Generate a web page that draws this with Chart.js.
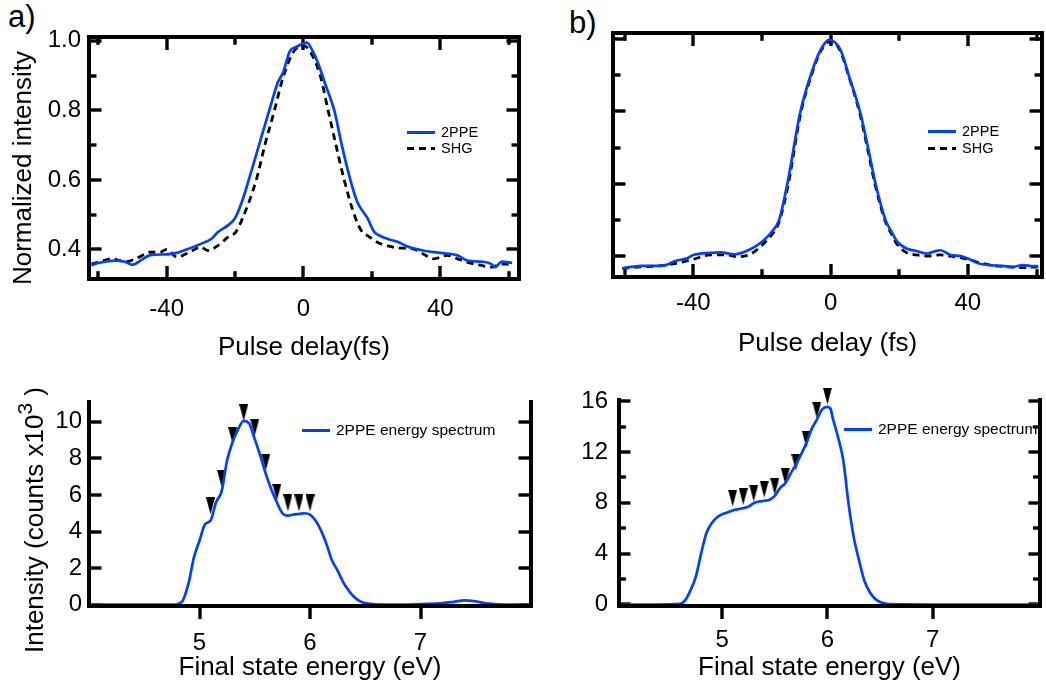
<!DOCTYPE html>
<html lang="en">
<head>
<meta charset="UTF-8">
<title>2PPE / SHG autocorrelation and 2PPE energy spectra</title>
<style>
    html, body { margin: 0; padding: 0; background: #fff; }
    body {
        width: 1046px; height: 687px; position: relative; overflow: hidden;
        font-family: "Liberation Sans", Arial, sans-serif; color: #000;
    }
    .panel { position: absolute; }
    .panel canvas { display: block; }
    .frame { position: absolute; box-sizing: border-box; border: 4px solid #000; pointer-events: none; }
    .frame.open { border-top: none; }
    .tag { position: absolute; font-size: 31px; line-height: 1; }
    .ytitle {
        position: absolute; font-size: 26px; line-height: 1; white-space: nowrap;
        transform: translate(-50%, -50%) rotate(-90deg);
    }
    .ytitle .sup { font-size: 21px; position: relative; top: -11px; }
    .leg { position: absolute; display: flex; align-items: center; height: 16px; white-space: nowrap; }
    .leg .sw { width: 28px; height: 3px; margin-right: 6px; }
    .leg .solid { background: #0040ff; }
    .leg .dash { background: repeating-linear-gradient(to right, #000 0 7px, transparent 7px 12px); }
</style>
</head>
<body>

<div class="tag" style="left:8px; top:1px;">a)</div>
<div class="tag" style="left:569px; top:7px;">b)</div>

<div class="panel" style="left:0; top:0;"><canvas id="chartA" width="530" height="365"></canvas></div>
<div class="panel" style="left:530px; top:0;"><canvas id="chartB" width="516" height="365"></canvas></div>
<div class="panel" style="left:0; top:365px;"><canvas id="chartC" width="545" height="322"></canvas></div>
<div class="panel" style="left:545px; top:365px;"><canvas id="chartD" width="501" height="322"></canvas></div>

<div class="ytitle" style="left:22px; top:168px;">Normalized intensity</div>
<div class="ytitle" style="left:34px; top:520px;">Intensity (counts x10<span class="sup">3</span> )</div>

<div class="leg" style="left:407px; top:124px; font-size:14.5px;"><div class="sw solid"></div>2PPE</div>
<div class="leg" style="left:407px; top:140px; font-size:14.5px;"><div class="sw dash"></div>SHG</div>
<div class="leg" style="left:928px; top:123px; font-size:14.5px;"><div class="sw solid"></div>2PPE</div>
<div class="leg" style="left:928px; top:140px; font-size:14.5px;"><div class="sw dash"></div>SHG</div>
<div class="leg" style="left:302px; top:422px; font-size:15.5px;"><div class="sw solid"></div>2PPE energy spectrum</div>
<div class="leg" style="left:844px; top:421px; font-size:15.5px;"><div class="sw solid"></div>2PPE energy spectrum</div>

<script src="https://cdn.jsdelivr.net/npm/chart.js@4"></script>
<script>
    const BLUE = '#0040ff';

    // a) pulse delay (fs) -> normalized intensity
    const delayA2ppe = [-62, -60, -55, -52, -50, -47, -45, -40, -37, -35, -30, -27, -25, -22, -20, -18, -16, -13, -10, -7.5, -6, -4, -2, 0, 1, 2.7, 4.5, 6.2, 9, 11.2, 13.7, 15.7, 18.7, 20.7, 22.2, 24.7, 28, 30, 35, 40, 45, 48, 52, 55, 56, 58, 61];
    const a2ppe = [0.355, 0.361, 0.368, 0.364, 0.356, 0.372, 0.383, 0.386, 0.39, 0.397, 0.416, 0.43, 0.45, 0.47, 0.49, 0.537, 0.6, 0.7, 0.8, 0.88, 0.908, 0.97, 0.983, 0.992, 0.995, 0.97, 0.93, 0.88, 0.8, 0.7, 0.6, 0.537, 0.49, 0.45, 0.44, 0.43, 0.42, 0.41, 0.397, 0.39, 0.383, 0.368, 0.365, 0.358, 0.349, 0.365, 0.361];
    const delayAShg = [-62, -60, -56, -52, -48, -45, -42, -40, -37, -33, -30, -28, -25, -22, -19.8, -17.8, -13.8, -11.3, -8.5, -5.8, -2.8, 0, 1.9, 4.9, 7.2, 9.5, 11.9, 15.2, 17.2, 18.7, 21.7, 24.7, 28, 32, 35, 38, 42, 45, 48, 52, 55, 58, 61];
    const aShg = [0.358, 0.363, 0.373, 0.365, 0.378, 0.392, 0.392, 0.4, 0.378, 0.394, 0.407, 0.397, 0.411, 0.436, 0.45, 0.49, 0.6, 0.7, 0.8, 0.9, 0.97, 0.986, 0.97, 0.9, 0.8, 0.7, 0.6, 0.49, 0.45, 0.44, 0.42, 0.41, 0.404, 0.402, 0.387, 0.373, 0.383, 0.373, 0.363, 0.354, 0.349, 0.358, 0.358];

    // b) pulse delay (fs) -> normalized intensity
    const delayB2ppe = [-60.7, -58, -55, -50, -48, -45, -42, -40, -35, -32, -28, -25, -22, -19.9, -17.5, -15, -12.6, -8.9, -5.8, -2.9, -0.5, 2.9, 5.3, 8.7, 10.9, 13.1, 16, 18, 19.4, 22.3, 25, 28, 30, 32, 35, 38, 40, 43, 46, 50, 53, 56, 59, 60.5];
    const b2ppe = [0.366, 0.37, 0.373, 0.373, 0.375, 0.387, 0.393, 0.403, 0.409, 0.41, 0.405, 0.412, 0.426, 0.44, 0.463, 0.5, 0.6, 0.795, 0.9, 0.97, 0.998, 0.97, 0.9, 0.795, 0.7, 0.6, 0.5, 0.463, 0.44, 0.42, 0.414, 0.407, 0.412, 0.416, 0.403, 0.4, 0.393, 0.38, 0.375, 0.373, 0.37, 0.375, 0.372, 0.372];
    const delayBShg = [-60.7, -55, -50, -45, -40, -35, -30, -27, -23, -20, -17.5, -15, -12.3, -8.7, -5.6, -2.7, 0, 2.7, 5.2, 8.5, 10.7, 12.9, 15.8, 17.8, 19.2, 22, 25, 28, 32, 36, 40, 44, 48, 52, 56, 60.5];
    const bShg = [0.366, 0.37, 0.373, 0.38, 0.391, 0.403, 0.403, 0.398, 0.407, 0.43, 0.455, 0.495, 0.6, 0.795, 0.9, 0.97, 0.994, 0.97, 0.9, 0.795, 0.7, 0.6, 0.5, 0.46, 0.435, 0.41, 0.403, 0.4, 0.403, 0.398, 0.391, 0.38, 0.373, 0.37, 0.368, 0.37];

    // c) final state energy (eV) -> counts x10^3
    const energyC = [4.05, 4.5, 4.78, 4.82, 4.85, 4.9, 4.95, 5.0, 5.05, 5.1, 5.15, 5.2, 5.25, 5.3, 5.35, 5.4, 5.45, 5.5, 5.55, 5.6, 5.65, 5.7, 5.75, 5.8, 5.85, 5.9, 5.95, 6.0, 6.05, 6.1, 6.15, 6.2, 6.25, 6.3, 6.35, 6.4, 6.45, 6.5, 6.6, 6.8, 7.0, 7.2, 7.3, 7.4, 7.5, 7.6, 7.7, 7.95];
    const countsC = [0, 0, 0, 0.08, 0.24, 1.15, 2.6, 3.5, 4.4, 4.6, 5.6, 6.2, 7.9, 8.9, 9.6, 10.05, 9.9, 9.05, 8.15, 7.15, 6.3, 5.6, 5.0, 4.87, 4.93, 4.96, 5.0, 4.93, 4.6, 4.05, 3.3, 2.4, 1.87, 1.24, 0.78, 0.42, 0.2, 0.09, 0.02, 0, 0.04, 0.09, 0.16, 0.24, 0.18, 0.07, 0.02, 0];
    const markEnergyC = [5.1, 5.2, 5.3, 5.4, 5.5, 5.6, 5.7, 5.8, 5.9, 6.0];
    const markCountsC = [5.4, 6.9, 9.25, 10.5, 9.7, 7.8, 6.15, 5.56, 5.56, 5.56];

    // d) final state energy (eV) -> counts x10^3
    const energyD = [4.02, 4.4, 4.6, 4.65, 4.7, 4.75, 4.8, 4.85, 4.9, 4.95, 5.0, 5.05, 5.1, 5.15, 5.2, 5.25, 5.3, 5.35, 5.4, 5.45, 5.5, 5.55, 5.6, 5.65, 5.7, 5.75, 5.8, 5.85, 5.9, 5.95, 6.0, 6.03, 6.05, 6.1, 6.15, 6.2, 6.25, 6.3, 6.35, 6.4, 6.45, 6.5, 6.55, 6.6, 7.0, 8.0];
    const countsD = [0, 0, 0.05, 0.34, 1.13, 2.2, 4.0, 5.6, 6.4, 6.85, 7.1, 7.24, 7.4, 7.5, 7.58, 7.7, 7.97, 8.1, 8.16, 8.24, 8.55, 9.16, 9.55, 10.3, 11.0, 11.8, 12.7, 13.8, 14.55, 15.35, 15.55, 15.4, 14.7, 13.2, 11.4, 8.0, 5.3, 3.5, 1.9, 1.0, 0.47, 0.2, 0.08, 0.03, 0, 0];
    const markEnergyD = [5.1, 5.2, 5.3, 5.4, 5.5, 5.6, 5.7, 5.8, 5.9, 6.0];
    const markCountsD = [8.37, 8.5, 8.76, 9.08, 9.29, 10.1, 11.2, 13.0, 15.3, 16.4];

    // ticks
    const delayTicks = [-40, 0, 40];
    const delayMinor = [-60, -20, 20, 60];
    const normTicks = [0.4, 0.6, 0.8, 1.0];
    const normMinor = [0.5, 0.7, 0.9];
    const energyTicks = [5, 6, 7];
    const countTicksC = [0, 2, 4, 6, 8, 10];
    const countTicksD = [0, 4, 8, 12, 16];
    const countMinorD = [2, 6, 10, 14];

    const pts = (xs, ys) => xs.map((x, i) => ({ x: x, y: ys[i] }));

    // black downward triangle marker
    const tri = document.createElement('canvas');
    tri.width = 9; tri.height = 17;
    (function () {
        const c = tri.getContext('2d');
        c.fillStyle = '#000';
        c.beginPath(); c.moveTo(0, 0); c.lineTo(9, 0); c.lineTo(4.5, 17); c.closePath(); c.fill();
    })();

    Chart.defaults.font.family = '"Liberation Sans", Arial, sans-serif';
    Chart.defaults.color = '#000';

    // axis that carries the tick labels and title (no lines)
    function labelAxis(pos, cfg) {
        const horiz = pos === 'bottom';
        return {
            type: 'linear', position: pos, weight: 1,
            min: cfg.min, max: cfg.max,
            afterFit: s => { if (horiz) s.height = cfg.size; else s.width = cfg.size; },
            afterBuildTicks: s => { s.ticks = cfg.ticks.map(v => ({ value: v })); },
            grid: { display: false, drawTicks: false, tickLength: 0 },
            border: { display: false },
            ticks: {
                display: cfg.labels !== false,
                padding: cfg.pad, font: { size: 24 }, color: '#000',
                maxRotation: 0, autoSkip: false,
                callback: cfg.fmt || (v => String(v))
            },
            title: cfg.title ? { display: true, text: cfg.title, font: { size: 26 }, color: '#000', padding: { top: 0, bottom: cfg.titlePad } } : { display: false }
        };
    }

    // zero-size axis that draws the border and the tick marks
    // (negative tickLength = ticks pointing into the plot)
    function tickAxis(pos, min, max, ticks, len, border) {
        const horiz = pos === 'bottom' || pos === 'top';
        return {
            type: 'linear', position: pos, weight: 0, min: min, max: max,
            afterFit: s => { if (horiz) s.height = 0; else s.width = 0; },
            afterBuildTicks: s => { s.ticks = ticks.map(v => ({ value: v })); },
            border: { display: border, color: '#000', width: 4 },
            grid: { display: true, drawOnChartArea: false, drawTicks: true, tickLength: len, tickWidth: 3.4, tickColor: '#000', color: '#000', lineWidth: 4 },
            ticks: { display: false }
        };
    }

    function buildScales(x, y, f) {
        const s = {
            x: labelAxis('bottom', x),
            y: labelAxis('left', y),
            xb: tickAxis('bottom', x.min, x.max, x.ticks, f.xOut ? f.xLen : -f.xLen, true),
            yl: tickAxis('left', y.min, y.max, y.ticks, -f.yLen, true),
            yr: tickAxis('right', y.min, y.max, y.ticks, -f.yLen, true)
        };
        if (f.xMinor) s.xbm = tickAxis('bottom', x.min, x.max, f.xMinor, -f.xLen * 0.6, false);
        if (f.yMinor) {
            s.ylm = tickAxis('left', y.min, y.max, f.yMinor, -f.yLen * 0.6, false);
            s.yrm = tickAxis('right', y.min, y.max, f.yMinor, -f.yLen * 0.6, false);
        }
        if (f.top) {
            s.xt = tickAxis('top', x.min, x.max, x.ticks, -f.xLen, true);
            if (f.xMinor) s.xtm = tickAxis('top', x.min, x.max, f.xMinor, -f.xLen * 0.6, false);
        }
        return s;
    }

    function lineSet(label, xs, ys, color, dash) {
        return {
            label: label, data: pts(xs, ys), xAxisID: 'x', yAxisID: 'y',
            borderColor: color, backgroundColor: color,
            borderWidth: dash ? 2.8 : 2.7, borderDash: dash || [], pointRadius: 0,
            cubicInterpolationMode: 'monotone', fill: false
        };
    }

    function markSet(xs, ys) {
        return {
            label: 'peaks', data: pts(xs, ys), xAxisID: 'x', yAxisID: 'y',
            showLine: false, pointStyle: tri,
            pointRadius: 5, pointHoverRadius: 5, clip: false
        };
    }

    // thick box outline placed on the chart's own plot area
    function addFrame(chart, closedTop) {
        const a = chart.chartArea;
        const box = document.createElement('div');
        box.className = closedTop ? 'frame' : 'frame open';
        box.style.left = (a.left - 2) + 'px';
        box.style.top = (closedTop ? a.top - 2 : a.top) + 'px';
        box.style.width = (a.right - a.left + 4) + 'px';
        box.style.height = (a.bottom - a.top + (closedTop ? 4 : 2)) + 'px';
        chart.canvas.parentNode.appendChild(box);
    }

    function makeChart(id, datasets, padding, x, y, frame) {
        const chart = new Chart(document.getElementById(id), {
            type: 'line',
            data: { datasets: datasets },
            options: {
                responsive: false, animation: false,
                layout: { padding: padding },
                plugins: { legend: { display: false }, tooltip: { enabled: false } },
                scales: buildScales(x, y, frame)
            }
        });
        addFrame(chart, frame.top);
        return chart;
    }

    makeChart('chartA',
        [lineSet('2PPE', delayA2ppe, a2ppe, BLUE), lineSet('SHG', delayAShg, aShg, '#000', [7, 5])],
        { top: 37, right: 11, left: 0, bottom: 0 },
        { min: -62.7, max: 63, ticks: delayTicks, size: 86, pad: 15.6, title: 'Pulse delay(fs)', titlePad: 2 },
        { min: 0.315, max: 1.011, ticks: normTicks, size: 89, pad: 8, fmt: v => v.toFixed(1) },
        { top: true, xOut: false, xMinor: delayMinor, yMinor: normMinor, xLen: 13, yLen: 12.5 });

    makeChart('chartB',
        [lineSet('2PPE', delayB2ppe, b2ppe, BLUE), lineSet('SHG', delayBShg, bShg, '#000', [7, 5])],
        { top: 33, right: 4, left: 0, bottom: 0 },
        { min: -63.4, max: 61.6, ticks: delayTicks, size: 88, pad: 11.6, title: 'Pulse delay (fs)', titlePad: 6 },
        { min: 0.342, max: 1.017, ticks: normTicks, size: 83, pad: 8, labels: false },
        { top: true, xOut: false, xMinor: delayMinor, yMinor: normMinor, xLen: 13, yLen: 12.5 });

    makeChart('chartC',
        [lineSet('2PPE energy spectrum', energyC, countsC, BLUE), markSet(markEnergyC, markCountsC)],
        { top: 37, right: 14, left: 0, bottom: 0 },
        { min: 4, max: 8, ticks: energyTicks, size: 81, pad: 22.6, title: 'Final state energy (eV)', titlePad: 4 },
        { min: -0.07, max: 11.08, ticks: countTicksC, size: 89, pad: 7 },
        { top: false, xOut: true, xLen: 13, yLen: 12.5 });

    makeChart('chartD',
        [lineSet('2PPE energy spectrum', energyD, countsD, BLUE), markSet(markEnergyD, markCountsD)],
        { top: 35, right: 3, left: 0, bottom: 0 },
        { min: 4.02, max: 8.02, ticks: energyTicks, size: 81, pad: 19.6, title: 'Final state energy (eV)', titlePad: 4 },
        { min: -0.12, max: 16.09, ticks: countTicksD, size: 74, pad: 11 },
        { top: false, xOut: true, yMinor: countMinorD, xLen: 13, yLen: 11.5 });
</script>
</body>
</html>
